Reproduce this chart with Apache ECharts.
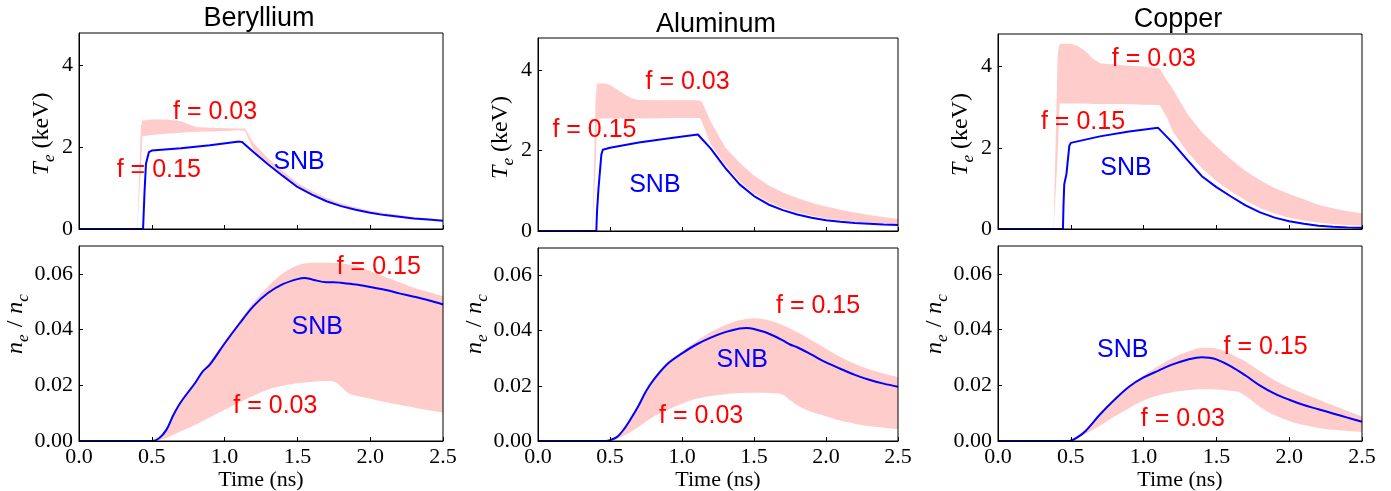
<!DOCTYPE html>
<html><head><meta charset="utf-8">
<script src="https://cdn.jsdelivr.net/npm/echarts@6/dist/echarts.min.js"></script>
<style>html,body{margin:0;padding:0;background:#fff}#c{width:1391px;height:491px}</style>
</head><body><div id="c"></div>
<script>
// ---------- titles / ticks ----------
const materials = ['Beryllium', 'Aluminum', 'Copper'];
const timeTicks = [0, 0.5, 1.0, 1.5, 2.0, 2.5];
const teTicks = [0, 2, 4];
const neTicks = [0, 0.02, 0.04, 0.06];

// ---------- Beryllium ----------
const beTeSnbT = [0, 0.44, 0.45, 0.46, 0.48, 0.5, 0.7, 0.9, 1.1, 1.12, 1.2, 1.3, 1.4, 1.5, 1.6, 1.7, 1.8, 1.9, 2.0, 2.1, 2.2, 2.3, 2.4, 2.5];
const beTeSnb = [0, 0, 0.9, 1.6, 1.88, 1.92, 1.98, 2.05, 2.14, 2.13, 1.88, 1.58, 1.3, 1.03, 0.84, 0.68, 0.56, 0.47, 0.4, 0.34, 0.3, 0.26, 0.23, 0.2];
const beTeBandT = [0, 0.40, 0.425, 0.435, 0.5, 0.6, 0.7, 0.75, 0.8, 0.9, 1.0, 1.1, 1.14, 1.2, 1.3, 1.4, 1.5, 1.6, 1.7, 1.8, 1.9, 2.0, 2.1, 2.2, 2.3, 2.4, 2.5];
const beTeLow = [0, 0, 1.5, 2.27, 2.3, 2.33, 2.36, 2.37, 2.38, 2.39, 2.4, 2.42, 2.4, 1.92, 1.62, 1.33, 1.06, 0.87, 0.71, 0.58, 0.49, 0.42, 0.36, 0.31, 0.27, 0.24, 0.21];
const beTeHigh = [0, 0, 2.5, 2.66, 2.68, 2.68, 2.64, 2.57, 2.5, 2.48, 2.47, 2.46, 2.46, 2.1, 1.72, 1.42, 1.13, 0.93, 0.76, 0.63, 0.53, 0.45, 0.39, 0.34, 0.29, 0.26, 0.22];

const beNeSnbT = [0, 0.5, 0.55, 0.6, 0.65, 0.7, 0.8, 0.85, 0.9, 1.0, 1.1, 1.2, 1.3, 1.4, 1.5, 1.55, 1.6, 1.7, 1.75, 1.8, 1.9, 2.0, 2.1, 2.2, 2.3, 2.4, 2.5];
const beNeSnb = [0, 0, 0.001, 0.004, 0.0095, 0.014, 0.021, 0.025, 0.0275, 0.035, 0.042, 0.0485, 0.0532, 0.0563, 0.0581, 0.0585, 0.058, 0.057, 0.057, 0.0568, 0.0562, 0.0553, 0.0543, 0.053, 0.0518, 0.0505, 0.049];
const beNeBandT = [0, 0.5, 0.6, 0.7, 0.8, 0.9, 1.0, 1.1, 1.2, 1.3, 1.4, 1.5, 1.6, 1.7, 1.75, 1.8, 1.85, 1.9, 2.0, 2.1, 2.2, 2.3, 2.4, 2.5];
const beNeLow = [0, 0, 0.0012, 0.0035, 0.0058, 0.0085, 0.0112, 0.0138, 0.0163, 0.0185, 0.0198, 0.0207, 0.0212, 0.0215, 0.0214, 0.0195, 0.0172, 0.0162, 0.0152, 0.014, 0.013, 0.012, 0.011, 0.0102];
const beNeHigh = [0, 0, 0.0045, 0.0145, 0.0215, 0.0285, 0.0358, 0.0428, 0.0498, 0.0555, 0.0602, 0.063, 0.064, 0.064, 0.0639, 0.0638, 0.0634, 0.063, 0.061, 0.059, 0.057, 0.055, 0.0535, 0.052];

// ---------- Aluminum ----------
const alTeSnbT = [0, 0.405, 0.41, 0.42, 0.44, 0.45, 0.5, 0.7, 0.9, 1.11, 1.2, 1.3, 1.4, 1.5, 1.6, 1.7, 1.8, 1.9, 2.0, 2.1, 2.2, 2.3, 2.4, 2.5];
const alTeSnb = [0, 0, 0.5, 1.05, 1.9, 2.02, 2.07, 2.2, 2.3, 2.4, 2.05, 1.57, 1.16, 0.87, 0.66, 0.52, 0.41, 0.33, 0.27, 0.23, 0.2, 0.18, 0.16, 0.15];
const alTeBandT = [0, 0.378, 0.40, 0.41, 0.47, 0.5, 0.55, 0.6, 0.65, 0.7, 0.8, 0.9, 1.0, 1.1, 1.125, 1.14, 1.2, 1.3, 1.4, 1.5, 1.6, 1.7, 1.8, 1.9, 2.0, 2.1, 2.2, 2.3, 2.4, 2.5];
const alTeLow = [0, 0, 1.6, 2.79, 2.8, 2.8, 2.8, 2.8, 2.8, 2.8, 2.8, 2.81, 2.81, 2.81, 2.81, 2.7, 2.15, 1.65, 1.23, 0.93, 0.72, 0.57, 0.46, 0.38, 0.31, 0.27, 0.23, 0.21, 0.19, 0.17];
const alTeHigh = [0, 0, 3.3, 3.67, 3.67, 3.63, 3.52, 3.4, 3.3, 3.26, 3.25, 3.25, 3.25, 3.25, 3.24, 3.2, 2.72, 2.08, 1.7, 1.38, 1.14, 0.96, 0.82, 0.7, 0.61, 0.53, 0.46, 0.4, 0.35, 0.3];

const alNeSnbT = [0, 0.47, 0.5, 0.55, 0.6, 0.65, 0.7, 0.75, 0.8, 0.9, 1.0, 1.1, 1.2, 1.3, 1.4, 1.45, 1.5, 1.6, 1.7, 1.75, 1.8, 1.9, 2.0, 2.1, 2.2, 2.3, 2.4, 2.5];
const alNeSnb = [0, 0, 0.0003, 0.0015, 0.0045, 0.0085, 0.013, 0.018, 0.022, 0.028, 0.0318, 0.035, 0.0375, 0.0395, 0.0408, 0.041, 0.0406, 0.039, 0.0365, 0.035, 0.034, 0.0313, 0.0285, 0.0262, 0.024, 0.0222, 0.0208, 0.0197];
const alNeBandT = [0, 0.47, 0.55, 0.6, 0.7, 0.8, 0.9, 1.0, 1.1, 1.2, 1.3, 1.4, 1.5, 1.6, 1.7, 1.75, 1.8, 1.9, 2.0, 2.1, 2.2, 2.3, 2.4, 2.5];
const alNeLow = [0, 0, 0.001, 0.002, 0.0052, 0.0088, 0.0113, 0.0135, 0.0153, 0.0163, 0.017, 0.0174, 0.0175, 0.0174, 0.0168, 0.0148, 0.013, 0.0105, 0.009, 0.0074, 0.0063, 0.0054, 0.0048, 0.0043];
const alNeHigh = [0, 0, 0.0018, 0.0048, 0.0135, 0.0225, 0.0285, 0.0325, 0.0362, 0.0395, 0.042, 0.0438, 0.0445, 0.0438, 0.042, 0.0408, 0.0395, 0.0365, 0.0335, 0.0305, 0.028, 0.026, 0.0245, 0.0232];

// ---------- Copper ----------
const cuTeSnbT = [0, 0.446, 0.45, 0.455, 0.47, 0.49, 0.5, 0.7, 0.9, 1.1, 1.2, 1.3, 1.4, 1.5, 1.6, 1.7, 1.8, 1.9, 2.0, 2.1, 2.2, 2.3, 2.4, 2.5];
const cuTeSnb = [0, 0, 0.6, 1.1, 1.35, 2.05, 2.12, 2.28, 2.4, 2.49, 2.12, 1.7, 1.3, 1.03, 0.8, 0.58, 0.41, 0.28, 0.19, 0.13, 0.08, 0.055, 0.04, 0.03];
const cuTeBandT = [0, 0.382, 0.41, 0.423, 0.5, 0.55, 0.6, 0.65, 0.7, 0.8, 0.9, 1.0, 1.11, 1.16, 1.2, 1.3, 1.4, 1.5, 1.6, 1.7, 1.8, 1.9, 2.0, 2.1, 2.2, 2.3, 2.4, 2.5];
const cuTeLow = [0, 0, 1.8, 3.09, 3.09, 3.09, 3.09, 3.08, 3.08, 3.08, 3.07, 3.06, 3.05, 2.75, 2.4, 1.9, 1.5, 1.18, 0.93, 0.7, 0.52, 0.38, 0.28, 0.21, 0.16, 0.12, 0.1, 0.08];
const cuTeHigh = [0, 0, 4.3, 4.56, 4.56, 4.5, 4.38, 4.2, 4.08, 4.05, 4.02, 4.0, 3.95, 3.66, 3.45, 2.84, 2.38, 2.03, 1.72, 1.43, 1.2, 1.01, 0.86, 0.73, 0.6, 0.51, 0.44, 0.39];

const cuNeSnbT = [0, 0.49, 0.55, 0.6, 0.7, 0.8, 0.9, 1.0, 1.1, 1.2, 1.3, 1.4, 1.45, 1.5, 1.6, 1.7, 1.8, 1.9, 2.0, 2.1, 2.2, 2.3, 2.4, 2.5];
const cuNeSnb = [0, 0, 0.0015, 0.0035, 0.0095, 0.0148, 0.0195, 0.0228, 0.0252, 0.0275, 0.0292, 0.0301, 0.0299, 0.0293, 0.0268, 0.0235, 0.0199, 0.017, 0.0148, 0.0129, 0.0114, 0.0099, 0.0084, 0.0069];
const cuNeBandT = [0, 0.45, 0.55, 0.6, 0.7, 0.8, 0.9, 1.0, 1.1, 1.2, 1.3, 1.4, 1.5, 1.6, 1.65, 1.7, 1.8, 1.9, 2.0, 2.1, 2.2, 2.3, 2.4, 2.5];
const cuNeLow = [0, 0, 0.0012, 0.0025, 0.0055, 0.0088, 0.0118, 0.0145, 0.0163, 0.0175, 0.0182, 0.0186, 0.0185, 0.018, 0.0176, 0.0162, 0.0122, 0.0092, 0.0072, 0.0057, 0.0047, 0.004, 0.0036, 0.0033];
const cuNeHigh = [0, 0, 0.002, 0.004, 0.0097, 0.015, 0.0198, 0.0235, 0.0268, 0.0298, 0.032, 0.0335, 0.0332, 0.0312, 0.0299, 0.0285, 0.025, 0.0218, 0.0192, 0.017, 0.0149, 0.0128, 0.0108, 0.0088];

// ---------- annotations: [panel, text, kind, t (left edge), y (centre)] ----------
const notes = [
  [0, 'f = 0.03', 'f', 0.646, 2.86], [0, 'f = 0.15', 'f', 0.259, 1.45], [0, 'SNB', 's', 1.335, 1.63],
  [1, 'f = 0.03', 'f', 0.747, 3.71], [1, 'f = 0.15', 'f', 0.10, 2.50], [1, 'SNB', 's', 0.633, 1.15],
  [2, 'f = 0.03', 'f', 0.782, 4.17], [2, 'f = 0.15', 'f', 0.295, 2.62], [2, 'SNB', 's', 0.702, 1.49],
  [3, 'f = 0.15', 'f', 1.77, 0.0623], [3, 'SNB', 's', 1.46, 0.041], [3, 'f = 0.03', 'f', 1.06, 0.0126],
  [4, 'f = 0.15', 'f', 1.653, 0.0489], [4, 'SNB', 's', 1.24, 0.0293], [4, 'f = 0.03', 'f', 0.841, 0.0089],
  [5, 'f = 0.15', 'f', 1.549, 0.0336], [5, 'SNB', 's', 0.68, 0.0327], [5, 'f = 0.03', 'f', 0.981, 0.0078]
];

// ---------- layout (pixels) ----------
const gridBoxes = [
  [79, 33, 364, 196], [538, 38, 360, 193], [998, 34, 364, 195],
  [79, 246, 364, 195], [538, 248, 360, 193], [998, 246, 364, 195]
];
const titleY = [19, 25, 20];

const panels = [
  [beTeSnbT, beTeSnb, beTeBandT, beTeLow, beTeHigh],
  [alTeSnbT, alTeSnb, alTeBandT, alTeLow, alTeHigh],
  [cuTeSnbT, cuTeSnb, cuTeBandT, cuTeLow, cuTeHigh],
  [beNeSnbT, beNeSnb, beNeBandT, beNeLow, beNeHigh],
  [alNeSnbT, alNeSnb, alNeBandT, alNeLow, alNeHigh],
  [cuNeSnbT, cuNeSnb, cuNeBandT, cuNeLow, cuNeHigh]
];

const SERIF = '"Liberation Serif", "Times New Roman", serif';
const SANS = '"Liberation Sans", Arial, Helvetica, sans-serif';
const PINK = '#ffcccc', BLUE = '#0000ff', RED = '#ff0000';

const chart = echarts.init(document.getElementById('c'), null, {renderer: 'canvas'});

const grids = gridBoxes.map(b => ({
  left: b[0], top: b[1], width: b[2], height: b[3],
  show: true, borderColor: '#000', borderWidth: 1, backgroundColor: 'transparent',
  containLabel: false, outerBoundsMode: 'none', z: 6
}));

const xAxes = gridBoxes.map((b, i) => ({
  type: 'value', gridIndex: i, z: 8, min: timeTicks[0], max: timeTicks[timeTicks.length - 1],
  interval: timeTicks[1] - timeTicks[0],
  axisLine: {show: true, onZero: false, lineStyle: {color: '#000', width: 1}},
  axisTick: {show: true, inside: true, length: 4, lineStyle: {color: '#000', width: 1}},
  axisLabel: {show: i >= 3, formatter: v => v.toFixed(1), fontFamily: SERIF, fontSize: 22, color: '#000', margin: 5, showMaxLabel: true},
  splitLine: {show: false},
  name: i >= 3 ? 'Time (ns)' : '', nameLocation: 'middle', nameGap: 28,
  nameTextStyle: {fontFamily: SERIF, fontSize: 22, color: '#000'}
}));

const yAxes = gridBoxes.map((b, i) => {
  const top = i < 3;
  const ticks = top ? teTicks : neTicks;
  return {
    type: 'value', gridIndex: i, z: 8, min: 0, max: top ? 4.8 : 0.07,
    interval: ticks[1] - ticks[0],
    axisLine: {show: true, onZero: false, lineStyle: {color: '#000', width: 1}},
    axisTick: {show: true, inside: true, length: 4, lineStyle: {color: '#000', width: 1}},
    axisLabel: {
      formatter: v => top ? String(Math.round(v)) : v.toFixed(2),
      fontFamily: SERIF, fontSize: 22, color: '#000', margin: 6,
      showMaxLabel: false, showMinLabel: true
    },
    splitLine: {show: false}
  };
});

// band = pink area under the upper edge, masked by a white area under the lower edge
const series = [];
panels.forEach((p, i) => {
  const [st, sv, bt, lo, hi] = p;
  const sm = i >= 3 ? 0.35 : false;
  series.push({
    type: 'line', xAxisIndex: i, yAxisIndex: i, symbol: 'none', silent: true, smooth: sm,
    data: bt.map((t, k) => [t, hi[k]]), lineStyle: {opacity: 0, width: 0},
    areaStyle: {color: PINK, opacity: 1, origin: 'start'}, z: 1, animation: false
  });
  series.push({
    type: 'line', xAxisIndex: i, yAxisIndex: i, symbol: 'none', silent: true, smooth: sm,
    data: bt.map((t, k) => [t, lo[k]]), lineStyle: {opacity: 0, width: 0},
    areaStyle: {color: '#ffffff', opacity: 1, origin: 'start'}, z: 2, animation: false
  });
  series.push({
    type: 'line', xAxisIndex: i, yAxisIndex: i, symbol: 'none', silent: true, smooth: sm,
    data: st.map((t, k) => [t, sv[k]]), lineStyle: {color: BLUE, width: 2}, z: 3, animation: false
  });
});

chart.setOption({animation: false, backgroundColor: '#fff', grid: grids, xAxis: xAxes, yAxis: yAxes, series: series});

// ---------- overlay texts ----------
const graphic = [];
materials.forEach((m, i) => {
  const b = gridBoxes[i];
  graphic.push({type: 'text', x: b[0] + b[2] / 2 - 2, y: titleY[i], z: 10,
    style: {text: m, fontFamily: SANS, fontSize: 27, fill: '#000', align: 'center', verticalAlign: 'middle',
            textAlign: 'center', textVerticalAlign: 'middle'}});
});
const yRich = {
  i: {fontFamily: SERIF, fontStyle: 'italic', fontSize: 24, lineHeight: 24, verticalAlign: 'top', fill: '#000'},
  r: {fontFamily: SERIF, fontSize: 24, lineHeight: 24, verticalAlign: 'top', fill: '#000'},
  q: {fontFamily: SERIF, fontSize: 24, lineHeight: 24, verticalAlign: 'top', fill: '#000', padding: [0, 7, 0, 7]},
  s: {fontFamily: SERIF, fontStyle: 'italic', fontSize: 17, lineHeight: 40, fill: '#000'}
};
gridBoxes.forEach((b, i) => {
  const top = i < 3;
  graphic.push({type: 'text', z: 10, rotation: Math.PI / 2,
    x: top ? b[0] - 37 + 8 : b[0] - 63 + 8,
    y: top ? b[1] + b[3] / 2 + 3 : 324,
    style: {text: top ? '{i|T}{s|e}{r| (keV)}' : '{i|n}{s|e}{q|/}{i|n}{s|c}', rich: yRich,
            align: 'center', verticalAlign: 'middle', textAlign: 'center', textVerticalAlign: 'middle'}});
});
notes.forEach(n => {
  const [pi, txt, kind, tx, ty] = n;
  const px = chart.convertToPixel({gridIndex: pi}, [tx, ty]);
  graphic.push({type: 'text', x: px[0], y: px[1], z: 10,
    style: {text: txt, fontFamily: SANS, fontSize: 25, fill: kind === 'f' ? RED : BLUE,
            align: 'left', verticalAlign: 'middle', textAlign: 'left', textVerticalAlign: 'middle'}});
});
chart.setOption({graphic: graphic});
</script>
</body></html>
